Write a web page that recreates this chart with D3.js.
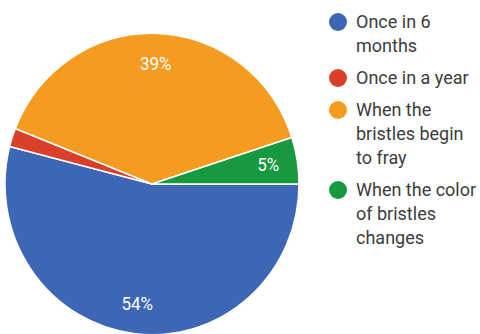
<!DOCTYPE html>
<html>
<head>
<meta charset="utf-8">
<script src="https://cdn.jsdelivr.net/npm/d3@7"></script>
<style>
  body { margin: 0; background: #fff; }
  svg { display: block; font-family: Roboto, "Noto Sans", sans-serif; }
</style>
</head>
<body>
<svg width="480" height="334"></svg>
<script>
// answers and their share (percent)
const categories = ["Once in 6 months", "Once in a year", "When the bristles begin to fray", "When the color of bristles changes"];
const values = [54, 2, 39, 5];
const labels = ["54%", "", "39%", "5%"];
const legendLines = [["Once in 6", "months"], ["Once in a year"], ["When the", "bristles begin", "to fray"], ["When the color", "of bristles", "changes"]];
const colors = ["#3d66b5", "#d9402a", "#f59b1f", "#17993f"];

const svg = d3.select("svg");
const width = 480, height = 334;

const r = 147;
const cx = 152, cy = 184;

const color = d3.scaleOrdinal().domain(categories).range(colors);

// pie starts at 3 o'clock and runs clockwise
const pie = d3.pie().sort(null).startAngle(Math.PI / 2).endAngle(Math.PI / 2 + 2 * Math.PI);
const arcs = pie(values);
const arc = d3.arc().innerRadius(0).outerRadius(r);
const labelArc = d3.arc().innerRadius(r * 0.8).outerRadius(r * 0.8);

const g = svg.append("g")
    .attr("transform", `translate(${cx},${cy}) scale(1,1.025)`);

g.selectAll("path")
    .data(arcs)
    .join("path")
    .attr("d", arc)
    .attr("fill", (d, i) => color(categories[i]))
    .attr("stroke", "#fff")
    .attr("stroke-width", 1.5);

g.selectAll("text")
    .data(arcs)
    .join("text")
    .attr("transform", d => `translate(${labelArc.centroid(d)})`)
    .attr("text-anchor", "middle")
    .attr("dy", "0.36em")
    .attr("fill", "#fff")
    .attr("font-size", 17)
    .text((d, i) => labels[i]);

// legend
const lineH = 24, gap = 8;
let y = 22;
const legend = svg.append("g");
legendLines.forEach((lines, i) => {
    legend.append("circle")
        .attr("cx", 338)
        .attr("cy", y)
        .attr("r", 9)
        .attr("fill", color(categories[i]));
    const t = legend.append("text")
        .attr("fill", "#3c3c3c")
        .attr("font-size", 18);
    lines.forEach((l, j) => {
        t.append("tspan")
            .attr("x", 356)
            .attr("y", y + j * lineH)
            .attr("dy", "0.35em")
            .text(l);
    });
    y += lines.length * lineH + gap;
});
</script>
</body>
</html>
